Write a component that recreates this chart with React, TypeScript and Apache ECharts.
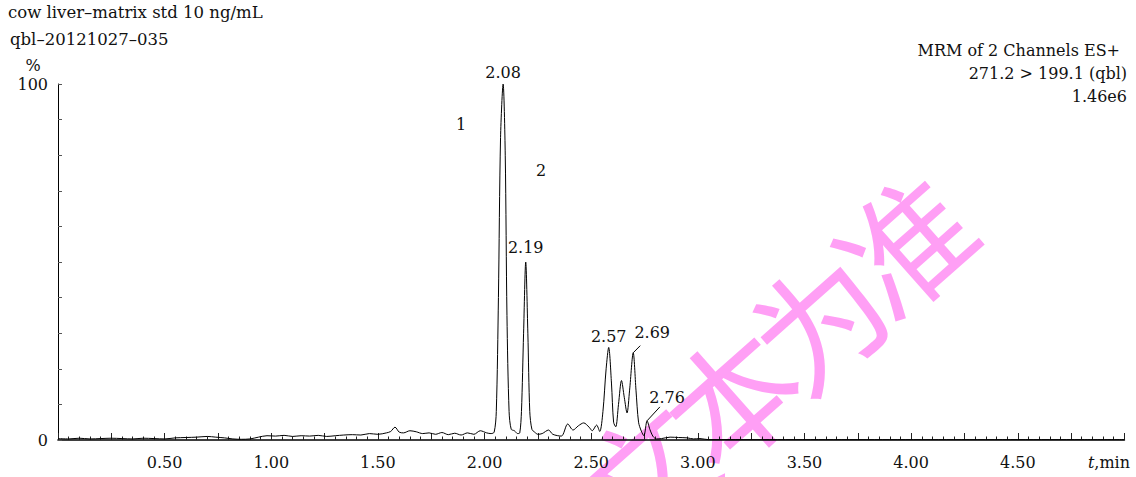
import React, { useEffect, useRef } from 'react';
import * as echarts from 'echarts';

// Chromatogram trace (retention time in min, relative intensity in %)
const times = [
  0.0, 0.05, 0.1, 0.15, 0.2, 0.25, 0.3, 0.35, 0.4, 0.45, 0.5, 0.55, 0.6, 0.65, 0.7, 0.74, 0.78, 0.82, 0.86, 0.9,
  0.94, 0.98, 1.02, 1.06, 1.1, 1.14, 1.18, 1.22, 1.26, 1.3, 1.34, 1.38, 1.42, 1.46, 1.5, 1.54, 1.56, 1.58, 1.6, 1.62,
  1.65, 1.68, 1.71, 1.74, 1.77, 1.8, 1.83, 1.86, 1.89, 1.92, 1.95, 1.98, 2.01, 2.03, 2.045, 2.055, 2.065, 2.075, 2.087, 2.097,
  2.105, 2.115, 2.125, 2.14, 2.155, 2.165, 2.173, 2.183, 2.193, 2.203, 2.212, 2.222, 2.235, 2.25, 2.27, 2.3, 2.32, 2.36, 2.39, 2.415,
  2.44, 2.465, 2.49, 2.505, 2.525, 2.54, 2.555, 2.57, 2.582, 2.595, 2.605, 2.615, 2.628, 2.642, 2.655, 2.668, 2.68, 2.697, 2.71, 2.722,
  2.735, 2.747, 2.762, 2.775, 2.79, 2.806, 2.83, 2.87, 2.91, 2.95, 2.98, 3.01, 3.05, 3.3, 3.6, 3.9, 4.2, 4.5, 4.8, 5.0,
];
const intensities = [
  0.4, 0.3, 0.5, 0.3, 0.4, 0.5, 0.4, 0.3, 0.5, 0.4, 0.3, 0.6, 0.7, 0.8, 1.0, 0.8, 0.6, 0.3, 0.2, 0.3,
  0.8, 1.2, 1.1, 1.3, 1.0, 1.2, 1.1, 1.3, 1.0, 1.2, 1.4, 1.5, 1.4, 1.8, 1.6, 2.0, 2.4, 3.6, 2.2, 2.0,
  2.6, 2.3, 1.8, 2.0, 1.6, 2.1, 1.5, 1.9, 1.4, 2.0, 1.6, 2.6, 2.0, 1.8, 2.2, 8, 40, 85, 100, 80,
  35, 8, 3.0, 2.6, 1.8, 2.0, 8, 30, 50, 30, 8, 3.0, 2.2, 1.6, 1.8, 2.8, 1.6, 1.1, 4.5, 2.8,
  4.0, 4.8, 3.6, 2.6, 4.2, 2.4, 8, 20, 26, 16, 5, 3.7, 10, 16.7, 12, 7.6, 14, 24.5, 14, 5,
  2.5, 1.2, 5.4, 3, 1, 0.3, 0.4, 0.8, 0.7, 0.6, 0.3, 0.4, 0.1, 0.1, 0.1, 0.1, 0.1, 0.1, 0.1, 0.1,
];

// Labelled peaks
const peakTimes = [2.087, 2.193, 2.582, 2.697, 2.762];
const peakValues = [100, 50, 26, 24.5, 5.4];
const peakLabels = ['2.08', '2.19', '2.57', '2.69', '2.76'];

// Axis tick labels shown
const xTickLabels = ['0.50', '1.00', '1.50', '2.00', '2.50', '3.00', '3.50', '4.00', '4.50'];
const yTickLabels = ['0', '100'];

// Header / info texts
const headerLines = ['cow liver\u2013matrix std 10 ng/mL', 'qbl\u201320121027\u2013035'];
const infoLines = ['MRM of 2 Channels ES+', '271.2 > 199.1 (qbl)', '1.46e6'];
const markerLabels = ['1', '2'];
const watermarkChars = ['以', '文', '本', '为', '准'];

const FONT = '"DejaVu Serif", "Liberation Serif", serif';
const FS = 16;

export default function App() {
  const ref = useRef<HTMLDivElement>(null);

  useEffect(() => {
    if (!ref.current) return;
    const chart = echarts.init(ref.current, null, { renderer: 'svg' });

    const labelOffsets: Record<string, { offset: number[]; distance: number }> = {
      '2.08': { offset: [0, 0], distance: 3 },
      '2.19': { offset: [0, 0], distance: 6 },
      '2.57': { offset: [0, 0], distance: 2 },
      '2.69': { offset: [19, -9], distance: 2 },
      '2.76': { offset: [20, -12], distance: 2 },
    };
    const leaderPeaks = ['2.69', '2.76'];
    const leaderDelta: Record<string, [number, number]> = {
      '2.69': [0.033, 2.0],
      '2.76': [0.06, 3.9],
    };

    const traceData = times.map((t, i) => [t, intensities[i]]);
    const peakData = peakTimes.map((t, i) => {
      const o = labelOffsets[peakLabels[i]];
      return {
        value: [t, peakValues[i]],
        name: peakLabels[i],
        label: {
          show: true,
          position: 'top',
          distance: o.distance,
          offset: o.offset,
        },
      };
    });
    const leaderLines = leaderPeaks.map((lab) => {
      const i = peakLabels.indexOf(lab);
      const d = leaderDelta[lab];
      return [
        { coord: [peakTimes[i], peakValues[i]] },
        { coord: [peakTimes[i] + d[0], peakValues[i] + d[1]] },
      ];
    });

    const textBase = { fontFamily: FONT, fontSize: FS, fill: '#111' };

    // watermark: characters placed along a diagonal line
    const ang = (41.5 * Math.PI) / 180;
    const dir = [Math.cos(ang), -Math.sin(ang)];
    const lastCenter = [902, 240];
    const adv = 116;
    const n = watermarkChars.length;
    const wmElements = watermarkChars.map((ch, i) => {
      const k = i - (n - 1);
      return {
        type: 'text',
        z: -10,
        x: lastCenter[0] + k * adv * dir[0],
        y: lastCenter[1] + k * adv * dir[1],
        rotation: ang,
        style: {
          text: ch,
          fontFamily: '"Noto Sans CJK SC", sans-serif',
          fontSize: 130,
          fill: '#ff9ff5',
          textAlign: 'center',
          textVerticalAlign: 'middle',
        },
      };
    });

    chart.setOption({
      animation: false,
      backgroundColor: '#fff',
      grid: { left: 58, right: 11.6, top: 84, bottom: 37, containLabel: false, outerBoundsMode: 'none' },
      xAxis: {
        type: 'value',
        min: 0,
        max: 5,
        interval: 0.25,
        axisLine: { show: true, lineStyle: { color: '#000', width: 1.6 } },
        axisTick: { show: true, inside: true, length: 7, lineStyle: { color: '#222', width: 1 } },
        minorTick: { show: true, splitNumber: 5, length: 3.5, lineStyle: { color: '#222', width: 1 } },
        splitLine: { show: false },
        axisLabel: {
          margin: 14,
          fontFamily: FONT,
          fontSize: FS,
          color: '#111',
          showMinLabel: true,
          showMaxLabel: true,
          formatter: (v: number) => {
            const s = v.toFixed(2);
            return xTickLabels.includes(s) ? s : '';
          },
        },
      },
      yAxis: {
        type: 'value',
        min: 0,
        max: 100,
        interval: 10,
        axisLine: { show: true, lineStyle: { color: '#000', width: 1 } },
        axisTick: { show: true, inside: true, length: 4, lineStyle: { color: '#555', width: 1 } },
        splitLine: { show: false },
        axisLabel: {
          margin: 10,
          fontFamily: FONT,
          fontSize: FS,
          color: '#111',
          formatter: (v: number) => (yTickLabels.includes(String(v)) ? String(v) : ''),
        },
      },
      series: [
        {
          type: 'line',
          data: traceData,
          showSymbol: false,
          symbol: 'none',
          smooth: 0.3,
          lineStyle: { color: '#000', width: 1 },
          z: 3,
        },
        {
          type: 'scatter',
          data: peakData,
          symbol: 'circle',
          symbolSize: 2,
          itemStyle: { color: 'rgba(0,0,0,0)', opacity: 1 },
          label: {
            show: true,
            position: 'top',
            formatter: (p: any) => p.name,
            fontFamily: FONT,
            fontSize: FS,
            color: '#111',
            opacity: 1,
          },
          markLine: {
            silent: true,
            symbol: ['none', 'none'],
            label: { show: false },
            lineStyle: { color: '#000', width: 1, type: 'solid' },
            data: leaderLines,
          },
          z: 4,
        },
      ],
      graphic: [
        ...wmElements,
        ...headerLines.map((t, i) => ({
          type: 'text',
          x: 8 + i * 2,
          y: 12 + i * 27,
          style: { ...textBase, fontSize: 16.5, text: t, textAlign: 'left', textVerticalAlign: 'middle' },
        })),
        {
          type: 'text',
          x: 33,
          y: 65,
          style: { ...textBase, text: '%', textAlign: 'center', textVerticalAlign: 'middle' },
        },
        ...infoLines.map((t, i) => ({
          type: 'text',
          x: i === 0 ? 1120 : 1127,
          y: 50 + i * 23,
          style: { ...textBase, text: t, textAlign: 'right', textVerticalAlign: 'middle' },
        })),
        {
          type: 'text',
          x: 461,
          y: 124,
          style: { ...textBase, text: markerLabels[0], textAlign: 'center', textVerticalAlign: 'middle' },
        },
        {
          type: 'text',
          x: 541,
          y: 170,
          style: { ...textBase, text: markerLabels[1], textAlign: 'center', textVerticalAlign: 'middle' },
        },
        {
          type: 'text',
          x: 1130,
          y: 462,
          style: {
            text: '{i|t},min',
            textAlign: 'right',
            textVerticalAlign: 'middle',
            fontFamily: FONT,
            fontSize: FS,
            fill: '#111',
            rich: { i: { fontStyle: 'italic', fontFamily: FONT, fontSize: FS, fill: '#111' } },
          },
        },
      ],
    });

    return () => chart.dispose();
  }, []);

  return (
    <div
      ref={ref}
      style={{ position: 'fixed', left: 0, top: 0, width: 1136, height: 477, background: '#fff' }}
    />
  );
}
